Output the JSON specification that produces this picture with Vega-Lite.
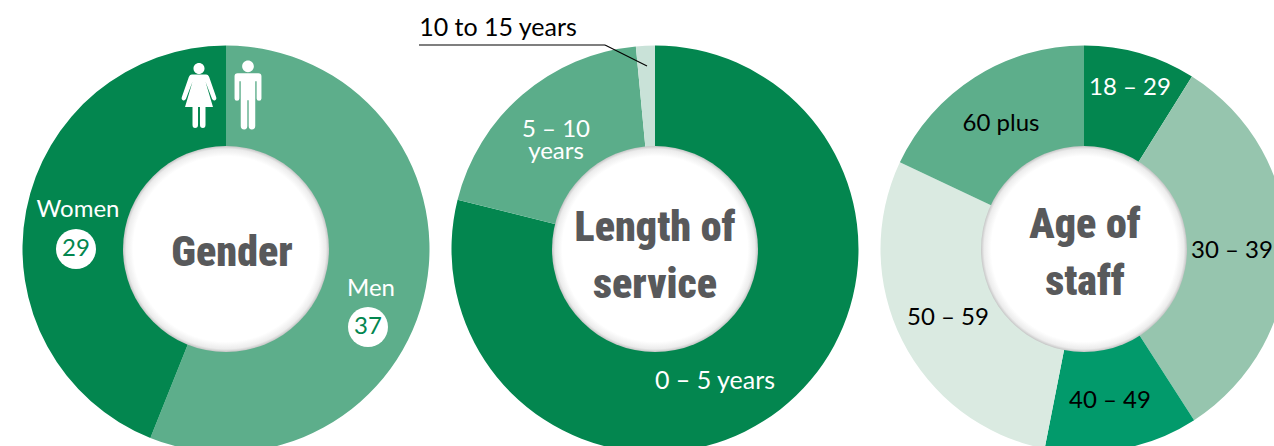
{
  "$schema": "https://vega.github.io/schema/vega-lite/v6.json",
  "width": 1274,
  "height": 446,
  "padding": 0,
  "autosize": {"type": "none"},
  "background": "white",
  "view": {"stroke": null},
  "config": {"text": {"font": "Lato", "fontSize": 24}},
  "data": {"values": [
    {"chart": "Gender", "order": 1, "segment": "Men", "label": "Men", "value": 37},
    {"chart": "Gender", "order": 2, "segment": "Women", "label": "Women", "value": 29},
    {"chart": "Length of service", "order": 1, "segment": "0 to 5 years", "label": "0 – 5 years", "value": 78.9},
    {"chart": "Length of service", "order": 2, "segment": "5 to 10 years", "label": "5 – 10\nyears", "value": 19.6},
    {"chart": "Length of service", "order": 3, "segment": "10 to 15 years", "label": "10 to 15 years", "value": 1.5},
    {"chart": "Age of staff", "order": 1, "segment": "18 to 29", "label": "18 – 29", "value": 8.9},
    {"chart": "Age of staff", "order": 2, "segment": "30 to 39", "label": "30 – 39", "value": 32},
    {"chart": "Age of staff", "order": 3, "segment": "40 to 49", "label": "40 – 49", "value": 12.2},
    {"chart": "Age of staff", "order": 4, "segment": "50 to 59", "label": "50 – 59", "value": 28.9},
    {"chart": "Age of staff", "order": 5, "segment": "60 plus", "label": "60 plus", "value": 18}
  ]},
  "transform": [
    {"stack": "value", "groupby": ["chart"], "sort": [{"field": "order", "order": "ascending"}], "offset": "normalize", "as": ["start", "end"]}
  ],
  "encoding": {
    "x": {
      "field": "chart",
      "type": "nominal",
      "axis": null,
      "scale": {"type": "point", "domain": ["Gender", "Length of service", "Age of staff"], "range": [226, 1084], "padding": 0}
    },
    "y": {"value": 249}
  },
  "layer": [
    {
      "mark": {"type": "arc", "outerRadius": 203.5, "innerRadius": 60},
      "encoding": {
        "theta": {"field": "start", "type": "quantitative", "stack": null, "scale": {"domain": [0, 1]}},
        "theta2": {"field": "end"},
        "color": {
          "field": "segment",
          "type": "nominal",
          "legend": null,
          "scale": {
            "domain": ["Men", "Women", "0 to 5 years", "5 to 10 years", "10 to 15 years", "18 to 29", "30 to 39", "40 to 49", "50 to 59", "60 plus"],
            "range": ["#5DAE8B", "#03864F", "#03864F", "#5BAD8A", "#C9E2D8", "#03864F", "#96C5AE", "#029A6B", "#DAEAE1", "#5DAE8B"]
          }
        }
      }
    },
    {
      "data": {"values": [{"chart": "Gender"}, {"chart": "Length of service"}, {"chart": "Age of staff"}]},
      "transform": [],
      "mark": {
        "type": "arc",
        "theta": 0,
        "theta2": 6.2832,
        "outerRadius": 103,
        "innerRadius": 0,
        "fill": {
          "gradient": "radial", "x1": 0.5, "y1": 0.5, "x2": 0.5, "y2": 0.5, "r1": 0, "r2": 0.5,
          "stops": [
            {"offset": 0, "color": "#ffffff"},
            {"offset": 0.9, "color": "#ffffff"},
            {"offset": 0.97, "color": "#ececec"},
            {"offset": 1, "color": "#c6c6c6"}
          ]
        }
      }
    },
    {
      "data": {"values": [{"chart": "Gender", "title": "Gender"}]},
      "transform": [],
      "mark": {"type": "text", "font": "Roboto Condensed, Roboto", "fontWeight": 900, "fontSize": 42, "fill": "#58595B", "dx": 6, "dy": 4},
      "encoding": {"text": {"field": "title"}}
    },
    {
      "data": {"values": [{"chart": "Length of service", "title": "Length of\nservice"}]},
      "transform": [],
      "mark": {"type": "text", "font": "Roboto Condensed, Roboto", "fontWeight": 900, "fontSize": 42, "fill": "#58595B", "lineBreak": "\n", "lineHeight": 57, "dy": -21},
      "encoding": {"text": {"field": "title"}}
    },
    {
      "data": {"values": [{"chart": "Age of staff", "title": "Age of\nstaff"}]},
      "transform": [],
      "mark": {"type": "text", "font": "Roboto Condensed, Roboto", "fontWeight": 900, "fontSize": 42, "fill": "#58595B", "lineBreak": "\n", "lineHeight": 57, "dx": 1, "dy": -24},
      "encoding": {"text": {"field": "title"}}
    },
    {
      "transform": [{"filter": "datum.segment == 'Women'"}],
      "mark": {"type": "text", "fill": "white", "dx": -148, "dy": -39},
      "encoding": {"text": {"field": "label"}}
    },
    {
      "transform": [{"filter": "datum.segment == 'Women'"}],
      "mark": {"type": "point", "shape": "circle", "filled": true, "fill": "white", "opacity": 1, "size": 1600, "xOffset": -150},
      "encoding": {}
    },
    {
      "transform": [{"filter": "datum.segment == 'Women'"}],
      "mark": {"type": "text", "fill": "#03864F", "dx": -150, "dy": 0},
      "encoding": {"text": {"field": "value"}}
    },
    {
      "transform": [{"filter": "datum.segment == 'Men'"}],
      "mark": {"type": "text", "fill": "white", "dx": 145, "dy": 40},
      "encoding": {"text": {"field": "label"}}
    },
    {
      "transform": [{"filter": "datum.segment == 'Men'"}],
      "mark": {"type": "point", "shape": "circle", "filled": true, "fill": "white", "opacity": 1, "size": 1600, "xOffset": 142, "yOffset": 78},
      "encoding": {}
    },
    {
      "transform": [{"filter": "datum.segment == 'Men'"}],
      "mark": {"type": "text", "fill": "#03864F", "dx": 142, "dy": 78},
      "encoding": {"text": {"field": "value"}}
    },
    {
      "transform": [{"filter": "datum.segment == 'Women'"}],
      "mark": {
        "type": "point",
        "filled": true,
        "fill": "white",
        "opacity": 1,
        "size": 4225,
        "xOffset": -27,
        "yOffset": -153.5,
        "shape": "M-.17,-.83A.17,.17 0 1 1 .17,-.83A.17,.17 0 1 1 -.17,-.83ZM-.22,-.65L.22,-.65Q.28,-.65 .31,-.58L.53,.05Q.55,.13 .48,.15Q.43,.16 .4,.1L.2,-.42L.43,.35L.2,.35L.2,.9Q.2,1 .12,1Q.03,1 .03,.9L.03,.35L-.03,.35L-.03,.9Q-.03,1 -.12,1Q-.2,1 -.2,.9L-.2,.35L-.43,.35L-.2,-.42L-.4,.1Q-.43,.16 -.48,.15Q-.55,.13 -.53,.05L-.31,-.58Q-.28,-.65 -.22,-.65Z"
      },
      "encoding": {}
    },
    {
      "transform": [{"filter": "datum.segment == 'Men'"}],
      "mark": {
        "type": "point",
        "filled": true,
        "fill": "white",
        "opacity": 1,
        "size": 4761,
        "xOffset": 22,
        "yOffset": -154,
        "shape": "M-.17,-.83A.17,.17 0 1 1 .17,-.83A.17,.17 0 1 1 -.17,-.83ZM-.3,-.63L.3,-.63Q.39,-.63 .39,-.54L.39,.1Q.39,.17 .32,.17Q.25,.17 .25,.1L.25,-.4L.21,-.4L.21,.9Q.21,1 .11,1Q.02,1 .02,.9L.02,.15L-.02,.15L-.02,.9Q-.02,1 -.11,1Q-.21,1 -.21,.9L-.21,-.4L-.25,-.4L-.25,.1Q-.25,.17 -.32,.17Q-.39,.17 -.39,.1L-.39,-.54Q-.39,-.63 -.3,-.63Z"
      },
      "encoding": {}
    },
    {
      "transform": [{"filter": "datum.segment == '0 to 5 years'"}],
      "mark": {"type": "text", "fill": "white", "fontSize": 25, "dx": 60, "dy": 132},
      "encoding": {"text": {"field": "label"}}
    },
    {
      "transform": [{"filter": "datum.segment == '5 to 10 years'"}],
      "mark": {"type": "text", "fill": "white", "lineBreak": "\n", "lineHeight": 22, "dx": -99, "dy": -119},
      "encoding": {"text": {"field": "label"}}
    },
    {
      "transform": [{"filter": "datum.segment == '10 to 15 years'"}],
      "mark": {"type": "text", "fill": "black", "fontSize": 25, "dx": -157, "dy": -221},
      "encoding": {"text": {"field": "label"}}
    },
    {
      "data": {"values": [{"segment": "10 to 15 years"}]},
      "transform": [],
      "mark": {"type": "rule", "stroke": "black", "strokeWidth": 1.2},
      "encoding": {"x": {"value": 419}, "x2": {"value": 605}, "y": {"value": 45}}
    },
    {
      "data": {"values": [{"segment": "10 to 15 years"}]},
      "transform": [],
      "mark": {"type": "rule", "stroke": "black", "strokeWidth": 1.2},
      "encoding": {"x": {"value": 605}, "x2": {"value": 647}, "y": {"value": 45}, "y2": {"value": 66}}
    },
    {
      "transform": [{"filter": "datum.segment == '18 to 29'"}],
      "mark": {"type": "text", "fill": "white", "dx": 46, "dy": -161},
      "encoding": {"text": {"field": "label"}}
    },
    {
      "transform": [{"filter": "datum.segment == '30 to 39'"}],
      "mark": {"type": "text", "fill": "black", "dx": 148, "dy": 2},
      "encoding": {"text": {"field": "label"}}
    },
    {
      "transform": [{"filter": "datum.segment == '40 to 49'"}],
      "mark": {"type": "text", "fill": "black", "dx": 26, "dy": 152},
      "encoding": {"text": {"field": "label"}}
    },
    {
      "transform": [{"filter": "datum.segment == '50 to 59'"}],
      "mark": {"type": "text", "fill": "black", "dx": -136, "dy": 69},
      "encoding": {"text": {"field": "label"}}
    },
    {
      "transform": [{"filter": "datum.segment == '60 plus'"}],
      "mark": {"type": "text", "fill": "black", "dx": -83, "dy": -125},
      "encoding": {"text": {"field": "label"}}
    }
  ]
}
